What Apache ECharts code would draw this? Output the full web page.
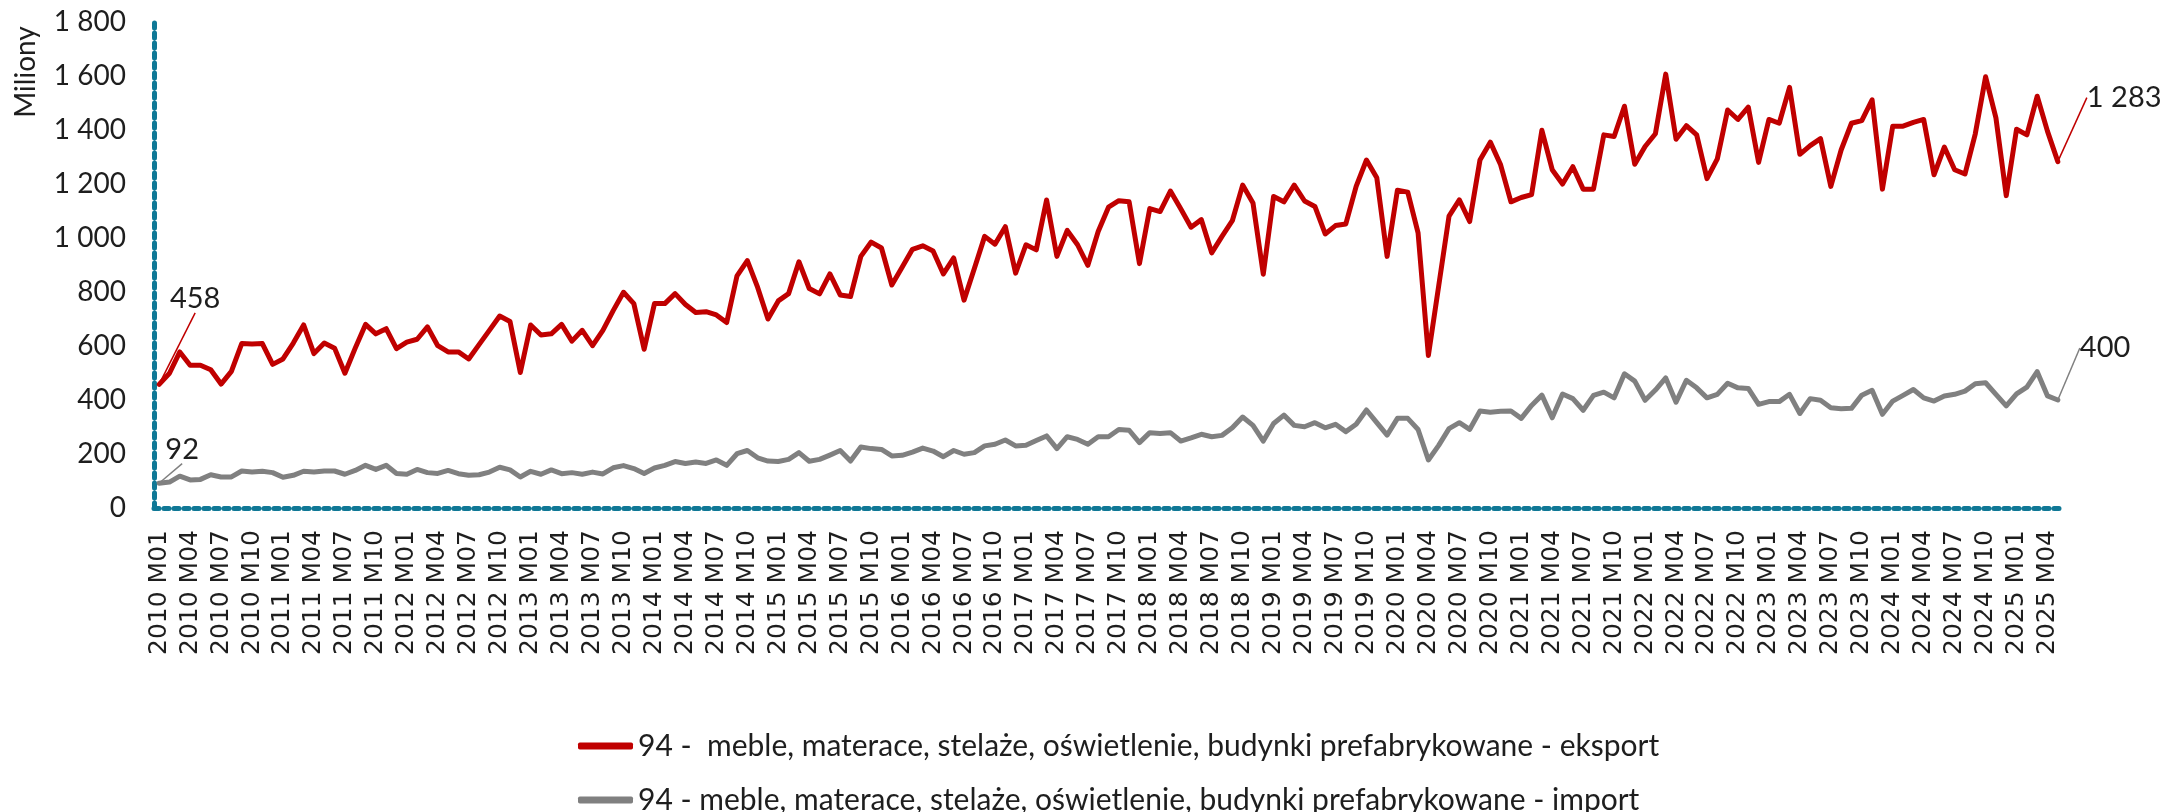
<!DOCTYPE html>
<html>
<head>
<meta charset="utf-8">
<script src="https://cdn.jsdelivr.net/npm/echarts@6/dist/echarts.min.js"></script>
<style>
  html, body { margin: 0; padding: 0; background: #fff; }
  #chart { width: 2172px; height: 812px; }
</style>
</head>
<body>
<div id="chart"></div>
<script>
// miesiące 2010 M01 .. 2025 M05
const years = [2010, 2011, 2012, 2013, 2014, 2015, 2016, 2017, 2018, 2019, 2020, 2021, 2022, 2023, 2024, 2025]
const months = ['M01', 'M02', 'M03', 'M04', 'M05', 'M06', 'M07', 'M08', 'M09', 'M10', 'M11', 'M12']
const lastMonthCount = 5
const categories = []
years.forEach(y => {
  const n = y === 2025 ? lastMonthCount : 12
  for (let m = 0; m < n; m++) categories.push(y + ' ' + months[m])
})

const exportName = '94 -  meble, materace, stelaże, oświetlenie, budynki prefabrykowane - eksport'
const importName = '94 - meble, materace, stelaże, oświetlenie, budynki prefabrykowane - import'

const exportValues = [
  458, 499, 578, 529, 529, 512, 459, 506, 609, 607, 609, 532,
  552, 611, 678, 572, 611, 592, 499, 592, 680, 645, 664, 590,
  614, 625, 671, 601, 578, 578, 552, 605, 658, 711, 691, 502,
  678, 641, 645, 680, 618, 658, 601, 658, 731, 799, 757, 588,
  757, 757, 794, 754, 724, 727, 715, 687, 860, 916, 817, 700,
  767, 794, 912, 813, 793, 867, 789, 783, 932, 985, 963, 826,
  892, 958, 971, 952, 867, 926, 770, 887, 1006, 977, 1042, 870,
  975, 956, 1141, 932, 1028, 975, 899, 1024, 1114, 1138, 1134, 905,
  1109, 1098, 1174, 1108, 1040, 1068, 945, 1006, 1064, 1196, 1130, 866,
  1154, 1134, 1196, 1137, 1117, 1015, 1046, 1052, 1191, 1289, 1223, 932,
  1177, 1170, 1019, 565, 823, 1081, 1141, 1061, 1289, 1355, 1271, 1134,
  1150, 1161, 1399, 1253, 1200, 1264, 1181, 1181, 1382, 1376, 1488, 1273,
  1339, 1386, 1607, 1366, 1416, 1382, 1220, 1293, 1474, 1439, 1485, 1280,
  1439, 1425, 1558, 1310, 1342, 1368, 1191, 1326, 1425, 1435, 1512, 1181,
  1414, 1414, 1428, 1439, 1234, 1337, 1253, 1237, 1386, 1597, 1445, 1157,
  1403, 1382, 1525, 1395, 1283
]

const importValues = [
  92, 96, 118, 104, 106, 123, 115, 115, 137, 133, 136, 131,
  114, 121, 136, 133, 137, 137, 125, 139, 158, 143, 158, 128,
  125, 143, 131, 128, 139, 127, 121, 123, 133, 151, 141, 115,
  136, 125, 141, 127, 131, 125, 133, 126, 149, 157, 146, 128,
  148, 158, 172, 165, 170, 165, 178, 158, 201, 213, 186, 174,
  172, 180, 205, 173, 180, 196, 213, 174, 226, 220, 217, 193,
  195, 207, 222, 211, 190, 213, 199, 205, 230, 236, 252, 230,
  232, 250, 267, 220, 264, 254, 236, 264, 264, 291, 288, 242,
  279, 276, 279, 248, 260, 273, 264, 269, 297, 337, 306, 248,
  313, 344, 306, 301, 316, 297, 310, 283, 310, 363, 316, 270,
  332, 332, 291, 178, 232, 294, 316, 291, 359, 355, 358, 359,
  332, 380, 418, 334, 422, 405, 362, 417, 429, 408, 497, 470,
  399, 437, 482, 392, 473, 445, 408, 421, 462, 445, 443, 384,
  394, 394, 421, 350, 405, 399, 371, 368, 369, 418, 436, 347,
  396, 417, 439, 408, 396, 415, 421, 433, 460, 464, 421, 378,
  423, 448, 505, 415, 400
]

const yTicks = { min: 0, max: 1800, interval: 200 }

const fmt = v => {
  v = Math.round(v)
  return v >= 1000 ? Math.floor(v / 1000) + ' ' + String(v % 1000).padStart(3, '0') : String(v)
}

// etykiety tylko na pierwszym i ostatnim punkcie
const withEndLabels = arr => arr.map((v, i) =>
  (i === 0 || i === arr.length - 1) ? { value: v, label: { show: true } } : v)

// przesunięcia etykiet względem punktu [dx, dy, align]
const labelShift = [
  { 0: [36, -86, 'center'], 184: [29, -64, 'left'] },
  { 0: [23, -34, 'center'], 184: [22, -52, 'left'] }
]

const labelFont = 'Lato, "Open Sans", sans-serif'
const textColor = '#1e1e1e'
const axisColor = '#0f7896'

const myChart = echarts.init(document.getElementById('chart'))

const lineSeries = (name, values, color, idx) => ({
  name: name,
  type: 'line',
  data: withEndLabels(values),
  symbol: 'circle',
  symbolSize: 2,
  showAllSymbol: true,
  itemStyle: { color: color },
  lineStyle: { color: color, width: 5, join: 'round', cap: 'round' },
  label: {
    show: false,
    formatter: p => fmt(p.value),
    fontFamily: labelFont,
    fontSize: 29,
    color: textColor
  },
  labelLine: {
    show: true,
    lineStyle: { color: color, width: 1.5 }
  },
  labelLayout: p => {
    const s = labelShift[idx][p.dataIndex]
    if (!s) return {}
    return {
      x: p.rect.x + p.rect.width / 2 + s[0],
      y: p.rect.y + p.rect.height / 2 + s[1],
      align: s[2],
      verticalAlign: 'middle'
    }
  },
  emphasis: { disabled: true },
  animation: false
})

const legendRow = (name, top) => ({
  left: 573,
  top: top,
  itemWidth: 55,
  itemHeight: 7,
  icon: 'roundRect',
  textStyle: { fontFamily: labelFont, fontSize: 30, color: textColor },
  data: [name]
})

myChart.setOption({
  animation: false,
  grid: { left: 154, right: 109, top: 22, bottom: 304, containLabel: false },
  legend: [
    legendRow(exportName, 726),
    legendRow(importName, 780)
  ],
  graphic: [{
    type: 'text',
    x: 26,
    y: 72,
    rotation: Math.PI / 2,
    style: {
      text: 'Miliony',
      font: '28px Lato',
      fill: textColor,
      align: 'center',
      verticalAlign: 'middle'
    }
  }],
  xAxis: {
    type: 'category',
    data: categories,
    boundaryGap: true,
    axisLine: { show: true, lineStyle: { color: axisColor, width: 5, type: [5, 5] } },
    axisTick: { show: false },
    axisLabel: {
      interval: 2,
      rotate: 90,
      margin: 22,
      fontFamily: '"DejaVu Sans", sans-serif',
      fontSize: 25,
      color: textColor
    },
    splitLine: { show: false }
  },
  yAxis: {
    type: 'value',
    min: yTicks.min,
    max: yTicks.max,
    interval: yTicks.interval,
    axisLine: { show: true, lineStyle: { color: axisColor, width: 5, type: [5, 5] } },
    axisTick: { show: false },
    axisLabel: {
      formatter: fmt,
      margin: 28,
      fontFamily: labelFont,
      fontSize: 28,
      color: textColor
    },
    splitLine: { show: false }
  },
  series: [
    lineSeries(exportName, exportValues, '#c00000', 0),
    lineSeries(importName, importValues, '#808080', 1)
  ]
})
</script>
</body>
</html>
